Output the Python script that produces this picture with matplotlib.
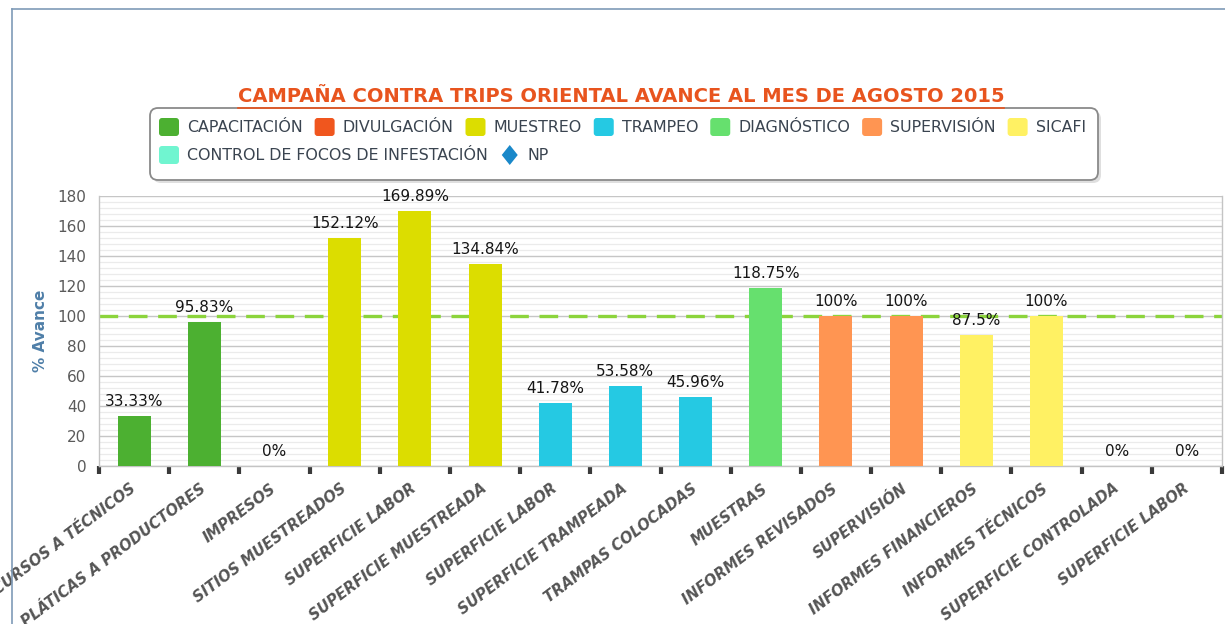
import matplotlib
matplotlib.use("Agg")
import matplotlib.pyplot as plt
from matplotlib.patches import FancyBboxPatch, Polygon
from matplotlib.ticker import MultipleLocator, FixedLocator

# ---------------- data ----------------
title = "CAMPAÑA CONTRA TRIPS ORIENTAL AVANCE AL MES DE AGOSTO 2015"
categories = ["CURSOS A TÉCNICOS", "PLÁTICAS A PRODUCTORES", "IMPRESOS",
              "SITIOS MUESTREADOS", "SUPERFICIE LABOR", "SUPERFICIE MUESTREADA",
              "SUPERFICIE LABOR", "SUPERFICIE TRAMPEADA", "TRAMPAS COLOCADAS",
              "MUESTRAS", "INFORMES REVISADOS", "SUPERVISIÓN",
              "INFORMES FINANCIEROS", "INFORMES TÉCNICOS", "SUPERFICIE CONTROLADA",
              "SUPERFICIE LABOR"]
values = [33.33, 95.83, 0, 152.12, 169.89, 134.84, 41.78, 53.58, 45.96,
          118.75, 100, 100, 87.5, 100, 0, 0]
groups = ["CAPACITACIÓN", "CAPACITACIÓN", "DIVULGACIÓN", "MUESTREO", "MUESTREO",
          "MUESTREO", "TRAMPEO", "TRAMPEO", "TRAMPEO", "DIAGNÓSTICO",
          "SUPERVISIÓN", "SUPERVISIÓN", "SICAFI", "SICAFI",
          "CONTROL DE FOCOS DE INFESTACIÓN", "CONTROL DE FOCOS DE INFESTACIÓN"]
legend_names = ["CAPACITACIÓN", "DIVULGACIÓN", "MUESTREO", "TRAMPEO",
                "DIAGNÓSTICO", "SUPERVISIÓN", "SICAFI",
                "CONTROL DE FOCOS DE INFESTACIÓN", "NP"]
legend_colors = ["#4cb031", "#f0561e", "#dcdd00", "#25c9e3", "#66e06e",
                 "#ff9552", "#fff163", "#70f5d0", "#1a88c9"]
target = 100
y_ticks = [0, 20, 40, 60, 80, 100, 120, 140, 160, 180]
y_label = "% Avance"

color_of = dict(zip(legend_names, legend_colors))

# ---------------- figure ----------------
W, H = 1225, 624
fig = plt.figure(figsize=(W / 100, H / 100), dpi=100)
fig.patch.set_facecolor("white")

ax = fig.add_axes([99 / W, 1 - 466 / H, 1123 / W, 270 / H])
x = list(range(len(categories)))
bar_colors = [color_of[g] for g in groups]
ax.bar(x, values, width=0.47, color=bar_colors, zorder=3)
ax.axhline(target, color="#8cd43c", lw=2.4, dashes=(5.6, 3.2), zorder=2)

ax.set_xlim(-0.5, len(categories) - 0.5)
ax.set_ylim(y_ticks[0], y_ticks[-1])
ax.set_yticks(y_ticks)
ax.yaxis.set_minor_locator(MultipleLocator(4))
ax.grid(axis="y", which="major", color="#c6c6c6", lw=1.0, zorder=0)
ax.grid(axis="y", which="minor", color="#ebebeb", lw=0.9, zorder=0)
ax.set_axisbelow(True)

ax.set_xticks(x)
ax.set_xticklabels(categories, rotation=37, ha="right", va="center",
                   rotation_mode="anchor", fontsize=10.7, fontweight="bold",
                   fontstyle="italic", color="#555555")
ax.tick_params(axis="x", which="major", length=0, pad=15)
ax.xaxis.set_minor_locator(FixedLocator([i - 0.5 for i in range(len(categories) + 1)]))
ax.tick_params(axis="x", which="minor", length=6, width=3, color="#3a3a3a")
ax.tick_params(axis="y", which="both", length=0, pad=9, labelsize=11,
               labelcolor="#5a5a5a")

for s in ["left", "right", "bottom"]:
    ax.spines[s].set_color("#c4c4c4")
    ax.spines[s].set_linewidth(1.0)
ax.spines["top"].set_visible(False)

ax.set_ylabel(y_label, fontsize=11, fontweight="bold", color="#4f7fa8")
ax.yaxis.set_label_coords(-51 / 1123, 0.5)

for xi, v in zip(x, values):
    ax.annotate(f"{v:g}%", (xi, v), xytext=(0, 5), textcoords="offset points",
                ha="center", va="bottom", fontsize=11, color="#151515", zorder=5)

# ---------------- overlay (pixel coordinates) ----------------
ov = fig.add_axes([0, 0, 1, 1])
ov.set_xlim(0, W)
ov.set_ylim(H, 0)
ov.axis("off")
ov.patch.set_visible(False)

# outer frame
ov.plot([12, 12], [9, H], color="#7f9bb8", lw=1.2)
ov.plot([12, W], [9, 9], color="#7f9bb8", lw=1.2)

# title
t = ov.text(621, 97, title, ha="center", va="center", fontsize=14,
            fontweight="bold", color="#e8541e")
fig.canvas.draw()
r = fig.canvas.get_renderer()
bb = t.get_window_extent(r)
ov.plot([bb.x0, bb.x1], [H - bb.y0 + 1, H - bb.y0 + 1], color="#e8541e", lw=1.2)

# legend box with shadow
ov.add_patch(FancyBboxPatch((153, 111), 948, 72, boxstyle="round,pad=0,rounding_size=8",
                            fc="#d8d8d8", ec="none", alpha=0.8))
ov.add_patch(FancyBboxPatch((150, 108), 948, 72, boxstyle="round,pad=0,rounding_size=8",
                            fc="white", ec="#8a8a8a", lw=1.3))

rows = [(legend_names[:7], legend_colors[:7], 127), (legend_names[7:], legend_colors[7:], 155)]
for names, cols, yc in rows:
    cx = 159
    for name, col in zip(names, cols):
        if name == "NP":
            ov.add_patch(Polygon([(cx + 10, yc - 10), (cx + 18, yc), (cx + 10, yc + 10),
                                  (cx + 2, yc)], closed=True, fc=col, ec="none"))
        else:
            ov.add_patch(FancyBboxPatch((cx, yc - 9), 20, 18,
                                        boxstyle="round,pad=0,rounding_size=3",
                                        fc=col, ec="none"))
        tt = ov.text(cx + 28, yc + 1, name, ha="left", va="center", fontsize=11.4,
                     color="#3a4450")
        w = tt.get_window_extent(r).width
        cx = cx + 28 + w + 12

fig.savefig("out.png", dpi=100, facecolor="white")
